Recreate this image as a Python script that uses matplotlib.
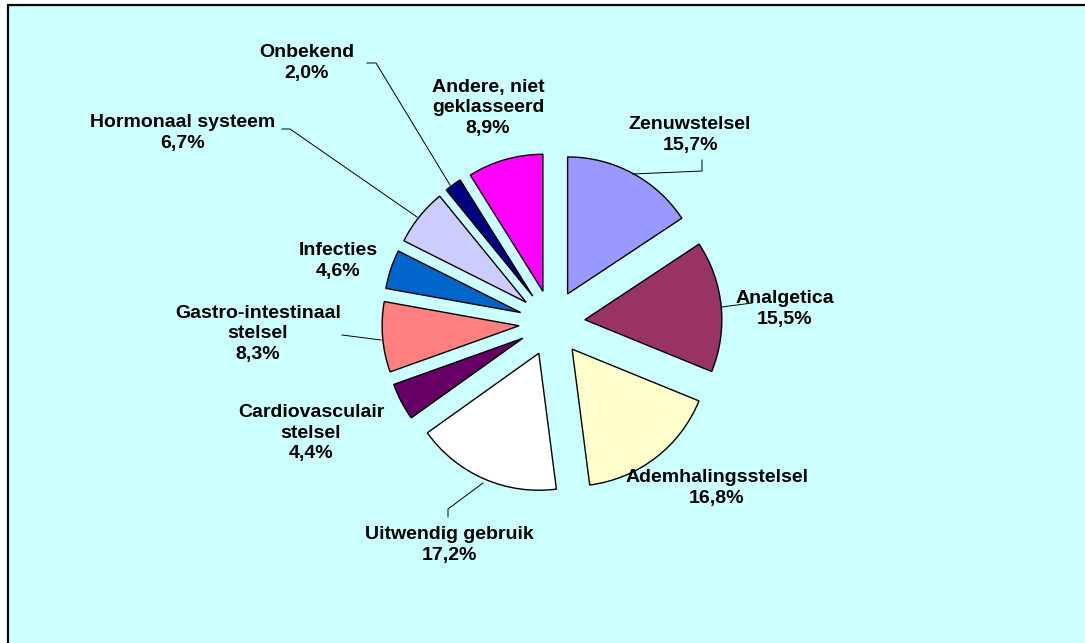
import matplotlib.pyplot as plt
from matplotlib.patches import Rectangle

# categories and shares (percent), clockwise from 12 o'clock
categories = ["Zenuwstelsel", "Analgetica", "Ademhalingsstelsel", "Uitwendig gebruik",
              "Cardiovasculair\nstelsel", "Gastro-intestinaal\nstelsel", "Infecties",
              "Hormonaal systeem", "Onbekend", "Andere, niet\ngeklasseerd"]
shares = [15.7, 15.5, 16.8, 17.2, 4.4, 8.3, 4.6, 6.7, 2.0, 8.9]
colors = ["#9999FF", "#993366", "#FFFFCC", "#FFFFFF", "#660066",
          "#FF8080", "#0066CC", "#CCCCFF", "#000080", "#FF00FF"]

# label centres in picture pixels (x, y from top)
label_pos = [(690, 135), (785, 309), (717, 488), (449, 545), (311, 433),
             (258, 334), (338, 261), (183, 133), (307, 63), (488, 108)]

# leader lines in picture pixels
leaders = {
    0: [(702, 160), (702, 171), (633, 174)],
    1: [(752, 303), (722, 307)],
    3: [(448, 517), (448, 509), (483, 483)],
    5: [(342, 335), (381, 340)],
    7: [(282, 129), (290, 129), (417, 217)],
    8: [(367, 63), (376, 63), (450, 185)],
}

W, H = 1085, 643


def fy(y):
    return H - y


fig = plt.figure(figsize=(W / 100, H / 100), dpi=100, facecolor="white")
ax = fig.add_axes([0, 0, 1, 1])

ax.add_patch(Rectangle((8, fy(700)), 1200, 695, facecolor="#CCFFFF",
                       edgecolor="black", linewidth=1.6, zorder=0))

# explode is an absolute offset in data (pixel) units here
ax.pie(shares, colors=colors, startangle=90, counterclock=False,
       explode=[33] * len(shares), radius=137, center=(552, fy(323)),
       wedgeprops=dict(edgecolor="black", linewidth=1.0), frame=True)
ax.set_xlim(0, W)
ax.set_ylim(0, H)
ax.set_aspect("auto")
ax.axis("off")

for i, (name, val) in enumerate(zip(categories, shares)):
    x, y = label_pos[i]
    txt = name + "\n" + f"{val:.1f}%".replace(".", ",")
    ax.text(x, fy(y), txt, ha="center", va="center", multialignment="center",
            fontsize=14, fontweight="bold", family="Liberation Sans",
            linespacing=1.3, zorder=5)

for i, pts in leaders.items():
    ax.plot([p[0] for p in pts], [fy(p[1]) for p in pts], color="black",
            linewidth=0.7, zorder=4)

fig.savefig("out.png", dpi=100, facecolor="white")
